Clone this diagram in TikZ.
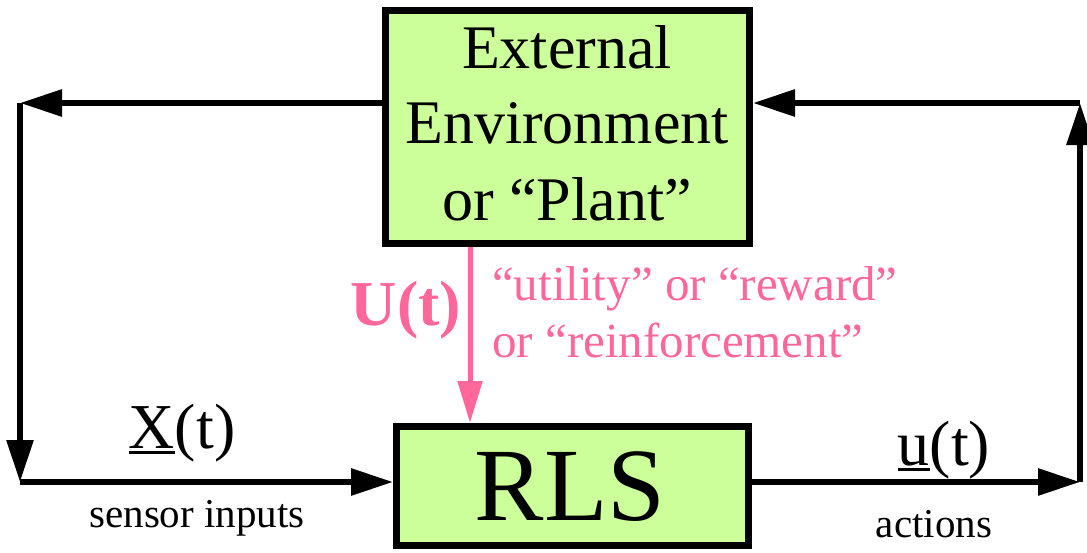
\documentclass[tikz,border=0pt]{standalone}
\usepackage{fontspec}
\setmainfont{Liberation Serif}
\usetikzlibrary{arrows.meta}
\definecolor{boxgreen}{RGB}{204,255,153}
\definecolor{pinkc}{RGB}{255,102,153}
\newcommand{\myul}[1]{\setbox0\hbox{#1}\rlap{\rule[-6pt]{\wd0}{3.5pt}}\box0}
\tikzset{
  blk/.style={draw=black, fill=boxgreen, line width=7pt, inner sep=0pt, align=center},
  conn/.style={line width=6pt, -{Triangle[length=42pt,width=26pt]}},
  pconn/.style={line width=5pt, draw=pinkc, -{Triangle[length=42pt,width=24pt,fill=pinkc]}},
  lbl/.style={inner sep=0pt, anchor=base},
}
\begin{document}
\begin{tikzpicture}[x=1pt,y=-1pt]
\useasboundingbox (0,0) rectangle (1087,552);
\node[blk, minimum width=364pt, minimum height=233pt] (env) at (567.5,127) {};
\node[blk, minimum width=352pt, minimum height=119pt] (rls) at (572.5,486) {};
\node[lbl, font=\fontsize{62}{75}\selectfont] (t1) at (567,68) {External};
\node[lbl, font=\fontsize{62}{75}\selectfont] (t2) at (567,143) {Environment};
\node[lbl, font=\fontsize{62}{75}\selectfont] (t3) at (567,220) {or “Plant”};
\node[lbl, font=\fontsize{104}{110}\selectfont] (rlst) at (570,520) {RLS};
\coordinate (tl) at (20,103);
\coordinate (bl) at (20,482);
\coordinate (tr) at (1080,103);
\coordinate (br) at (1080,482);
\coordinate (px) at (470,0);
\draw[conn] (env.west |- tl) -- (tl);
\draw[conn] (tl) -- (bl);
\draw[conn] (bl) -- (rls.west |- bl);
\draw[conn] (rls.east |- br) -- (br);
\draw[conn] (br) -- (tr);
\draw[conn] (tr) -- (env.east |- tr);
\draw[pconn] (env.south -| px) -- (rls.north -| px);
\node[lbl, font=\fontsize{64}{70}\selectfont] (xl) at (182,448) {\myul{X}(t)};
\node[lbl, font=\fontsize{41}{48}\selectfont] (sl) at (197,527) {sensor inputs};
\node[lbl, font=\fontsize{64}{70}\selectfont] (ul) at (944,465) {\myul{u}(t)};
\node[lbl, font=\fontsize{41}{48}\selectfont] (al) at (934,537) {actions};
\node[lbl, font=\fontsize{64}{70}\selectfont\bfseries, text=pinkc] (U) at (406,325) {U(t)};
\node[lbl, anchor=base west, font=\fontsize{49}{56}\selectfont, text=pinkc] (p1) at (492,300) {“utility” or “reward”};
\node[lbl, anchor=base west, font=\fontsize{49}{56}\selectfont, text=pinkc] (p2) at (492,357) {or “reinforcement”};
\end{tikzpicture}
\end{document}
